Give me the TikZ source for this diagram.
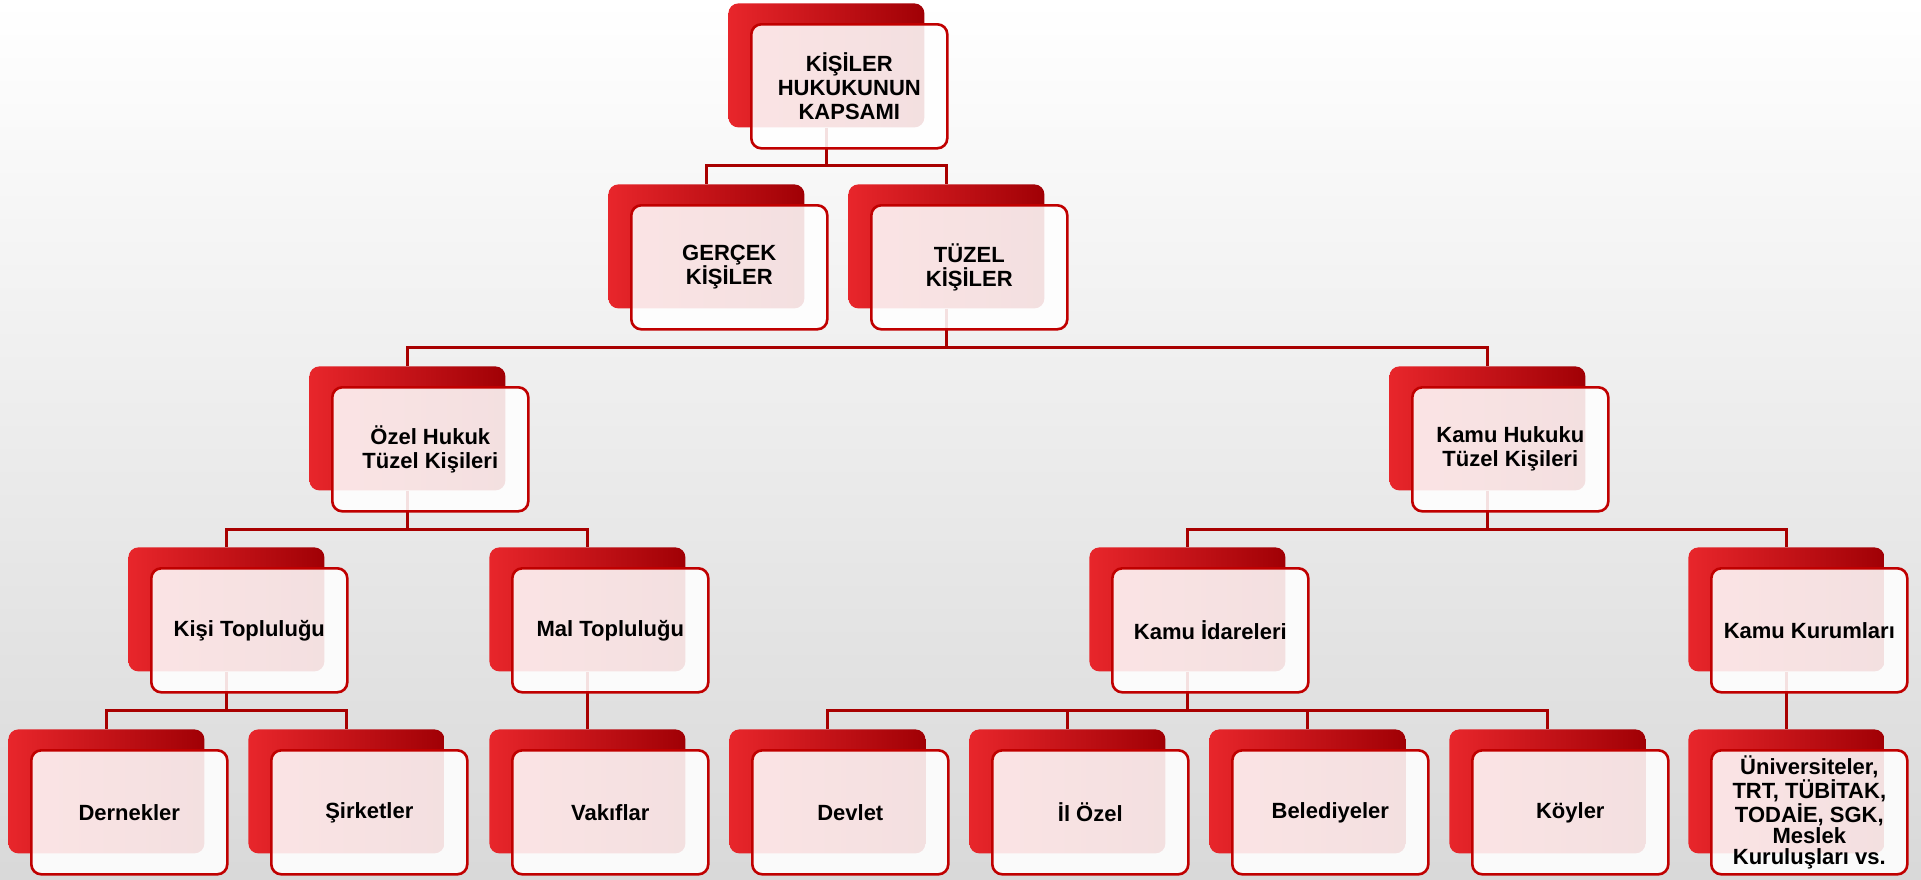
\documentclass[tikz,border=0pt]{standalone}
\usepackage{fontspec}
\setmainfont{Liberation Sans}
\usepackage{tikz}
\usetikzlibrary{positioning}
\definecolor{bxlight}{HTML}{E8262B}
\definecolor{bxdark}{HTML}{A00005}
\definecolor{rimred}{HTML}{C00000}
\definecolor{linkred}{HTML}{A80000}
\tikzstyle{backbox} = [rounded corners=5pt, left color=bxlight, right color=bxdark,
    minimum width=98pt, minimum height=62pt, anchor=north west, inner sep=0pt]
\tikzstyle{frontbox} = [draw=rimred, line width=1.3pt, rounded corners=5pt, fill=white,
    fill opacity=0.88, text opacity=1, minimum width=98pt, minimum height=62pt,
    anchor=north west, xshift=11pt, yshift=-10pt, align=center, inner sep=1pt,
    font=\bfseries\fontsize{11}{12}\selectfont]
\tikzstyle{link} = [draw=linkred, line width=1.5pt]
\pgfdeclarelayer{bg}
\pgfdeclarelayer{lines}
\pgfsetlayers{bg,lines,main}

\begin{document}
\begin{tikzpicture}[x=0.5pt, y=-0.5pt]
  \useasboundingbox (0,0) rectangle (1921,879);
  \begin{pgfonlayer}{bg}
    \fill [top color=white, bottom color=gray!30] (0,0) rectangle (1921,879);
  \end{pgfonlayer}
  % level 1
  \node [backbox] (b-top) at (728,3) {};
  \node [frontbox] (top) at (b-top.north west) {KİŞİLER\\HUKUKUNUN\\KAPSAMI};
  % level 2
  \node [backbox] (b-ger) at (608,184) {};
  \node [frontbox] (ger) at (b-ger.north west) {GERÇEK\\KİŞİLER};
  \node [backbox] (b-tuz) at (848,184) {};
  \node [frontbox] (tuz) at (b-tuz.north west) {TÜZEL\\KİŞİLER};
  % level 3
  \node [backbox] (b-ozel) at (309,366) {};
  \node [frontbox] (ozel) at (b-ozel.north west) {Özel Hukuk\\Tüzel Kişileri};
  \node [backbox] (b-kamu) at (1389,366) {};
  \node [frontbox] (kamu) at (b-kamu.north west) {Kamu Hukuku\\Tüzel Kişileri};
  % level 4
  \node [backbox] (b-kisi) at (128,547) {};
  \node [frontbox] (kisi) at (b-kisi.north west) {Kişi Topluluğu};
  \node [backbox] (b-mal) at (489,547) {};
  \node [frontbox] (mal) at (b-mal.north west) {Mal Topluluğu};
  \node [backbox] (b-idare) at (1089,547) {};
  \node [frontbox] (idare) at (b-idare.north west) {Kamu İdareleri};
  \node [backbox] (b-kurum) at (1688,547) {};
  \node [frontbox] (kurum) at (b-kurum.north west) {Kamu Kurumları};
  % level 5
  \node [backbox] (b-dernek) at (8,729) {};
  \node [frontbox] (dernek) at (b-dernek.north west) {Dernekler};
  \node [backbox] (b-sirket) at (248,729) {};
  \node [frontbox] (sirket) at (b-sirket.north west) {Şirketler};
  \node [backbox] (b-vakif) at (489,729) {};
  \node [frontbox] (vakif) at (b-vakif.north west) {Vakıflar};
  \node [backbox] (b-devlet) at (729,729) {};
  \node [frontbox] (devlet) at (b-devlet.north west) {Devlet};
  \node [backbox] (b-ilozel) at (969,729) {};
  \node [frontbox] (ilozel) at (b-ilozel.north west) {İl Özel};
  \node [backbox] (b-beled) at (1209,729) {};
  \node [frontbox] (beled) at (b-beled.north west) {Belediyeler};
  \node [backbox] (b-koy) at (1449,729) {};
  \node [frontbox] (koy) at (b-koy.north west) {Köyler};
  \node [backbox] (b-univ) at (1688,729) {};
  \node [frontbox, font=\bfseries\fontsize{11}{10.5}\selectfont] (univ) at (b-univ.north west)
    {Üniversiteler,\\TRT, TÜBİTAK,\\TODAİE, SGK,\\Meslek\\Kuruluşları vs.};
  % connectors
  \begin{pgfonlayer}{lines}
    \draw [link] (b-top.south) -- ++(0,38) -| (b-ger.north);
    \draw [link] (b-top.south) -- ++(0,38) -| (b-tuz.north);
    \draw [link] (b-tuz.south) -- ++(0,39) -| (b-ozel.north);
    \draw [link] (b-tuz.south) -- ++(0,39) -| (b-kamu.north);
    \draw [link] (b-ozel.south) -- ++(0,39) -| (b-kisi.north);
    \draw [link] (b-ozel.south) -- ++(0,39) -| (b-mal.north);
    \draw [link] (b-kamu.south) -- ++(0,39) -| (b-idare.north);
    \draw [link] (b-kamu.south) -- ++(0,39) -| (b-kurum.north);
    \draw [link] (b-kisi.south) -- ++(0,39) -| (b-dernek.north);
    \draw [link] (b-kisi.south) -- ++(0,39) -| (b-sirket.north);
    \draw [link] (b-mal.south) -- (b-vakif.north);
    \draw [link] (b-idare.south) -- ++(0,39) -| (b-devlet.north);
    \draw [link] (b-idare.south) -- ++(0,39) -| (b-ilozel.north);
    \draw [link] (b-idare.south) -- ++(0,39) -| (b-beled.north);
    \draw [link] (b-idare.south) -- ++(0,39) -| (b-koy.north);
    \draw [link] (b-kurum.south) -- (b-univ.north);
  \end{pgfonlayer}
\end{tikzpicture}
\end{document}
